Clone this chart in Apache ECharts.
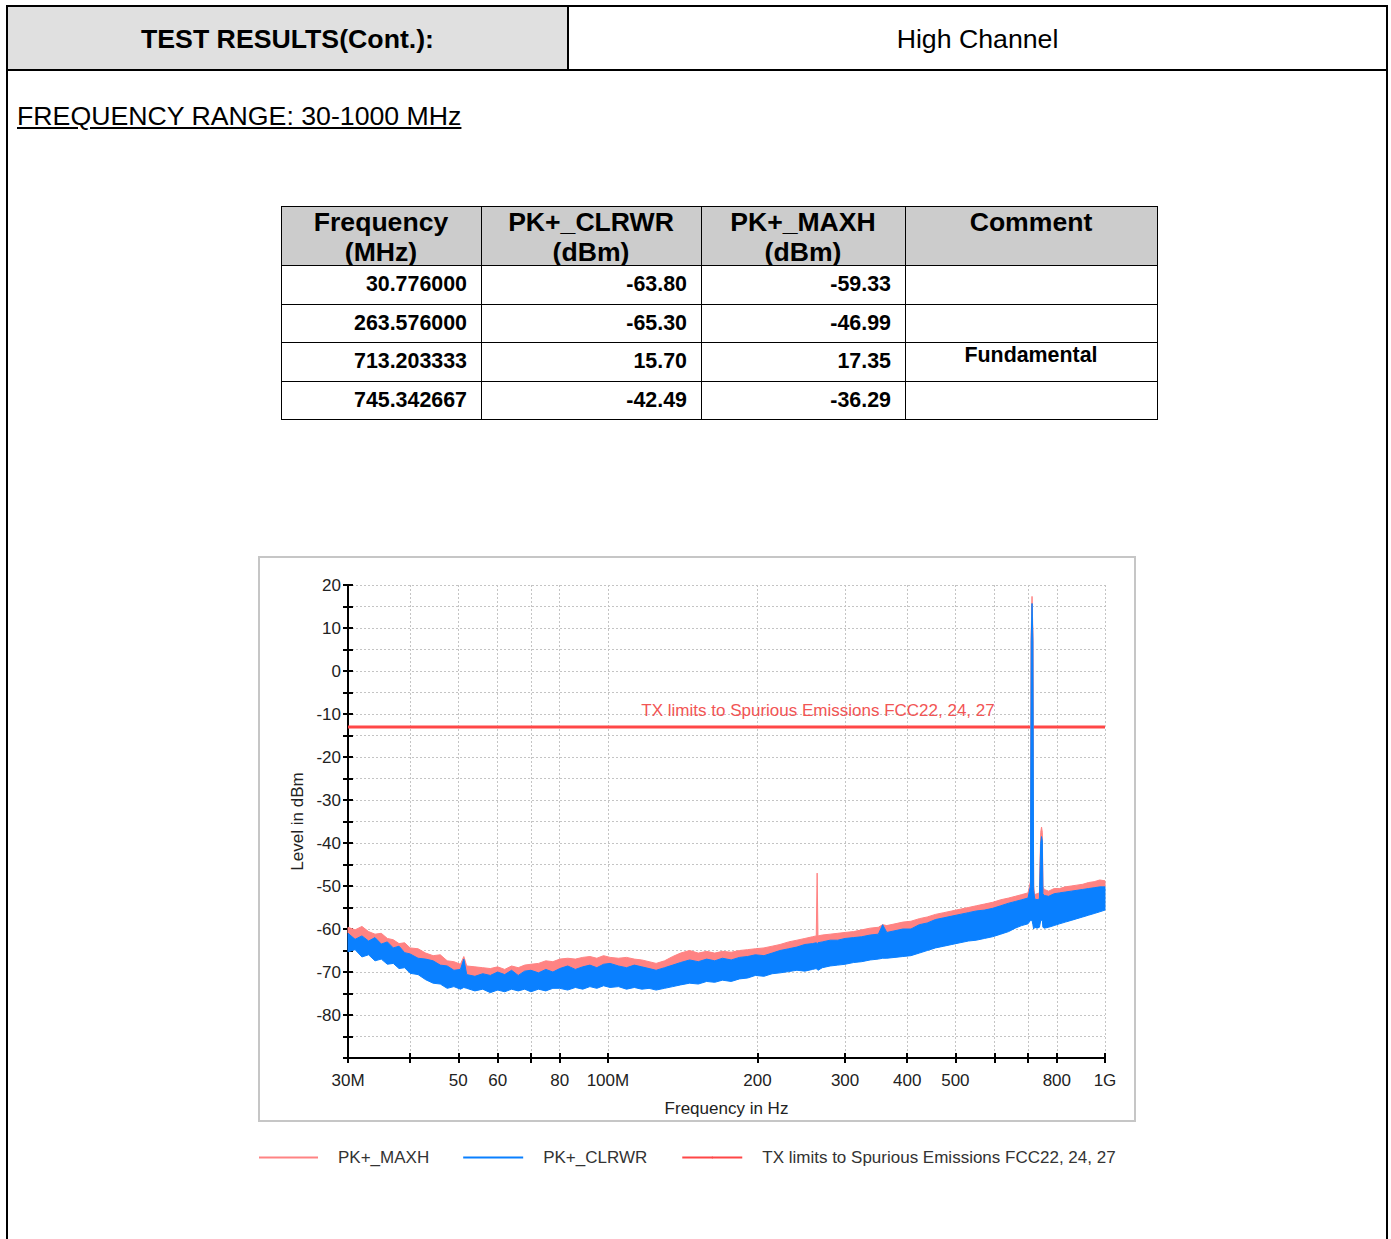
<!DOCTYPE html>
<html>
<head>
<meta charset="utf-8">
<script src="https://cdn.jsdelivr.net/npm/echarts@6/dist/echarts.min.js"></script>
<style>
html,body{margin:0;padding:0;background:#fff;}
body{width:1391px;height:1239px;position:relative;overflow:hidden;font-family:"Liberation Sans",Arial,sans-serif;color:#000;}
.abs{position:absolute;}
.hcell{position:absolute;font-weight:bold;font-size:26.6px;line-height:30px;text-align:center;white-space:nowrap;}
.dcell{position:absolute;font-weight:bold;font-size:21.4px;text-align:right;box-sizing:border-box;padding-right:14px;background:#fff;}
.ccell{position:absolute;font-weight:bold;font-size:21.4px;text-align:center;line-height:24px;padding-top:1px;background:#fff;box-sizing:border-box;}
</style>
</head>
<body>
<div class="abs" style="left:6px;top:5px;width:1382px;height:1300px;border:2px solid #000;box-sizing:border-box;"></div>
<div class="abs" style="left:8px;top:7px;width:559px;height:62px;background:#e0e0e0;"></div>
<div class="abs" style="left:567px;top:7px;width:2px;height:62px;background:#000;"></div>
<div class="abs" style="left:8px;top:69px;width:1378px;height:2px;background:#000;"></div>
<div class="abs" style="left:8px;top:8px;width:559px;height:62px;line-height:62px;text-align:center;font-weight:bold;font-size:26.7px;">TEST RESULTS(Cont.):</div>
<div class="abs" style="left:569px;top:8px;width:817px;height:62px;line-height:62px;text-align:center;font-size:26.7px;">High Channel</div>
<div class="abs" style="left:17px;top:101px;font-size:26.7px;line-height:30px;text-decoration:underline;white-space:nowrap;">FREQUENCY RANGE: 30-1000 MHz</div>
<div id="tbl"></div>
<div class="abs" style="left:258px;top:556px;width:878px;height:566px;border:2px solid #c6c6c6;box-sizing:border-box;"></div>
<div id="chart" class="abs" style="left:259px;top:557px;width:880px;height:630px;"></div>
<script>
// ---------------- table data ----------------
const tableHeaders = ['Frequency<br>(MHz)', 'PK+_CLRWR<br>(dBm)', 'PK+_MAXH<br>(dBm)', 'Comment'];
const tableFreq = ['30.776000', '263.576000', '713.203333', '745.342667'];
const tableClrwr = ['-63.80', '-65.30', '15.70', '-42.49'];
const tableMaxh = ['-59.33', '-46.99', '17.35', '-36.29'];
const tableComment = ['', '', 'Fundamental', ''];

// ---------------- chart data ----------------
const freqMHz = [30,31,32,33,34,35,36,37,38,39,40,41.5,43,44.5,46,47.5,49,50.5,51.3,52,54,56,58,60,62,64,66,68,70,72.5,75,77.5,80,83,86,89,92,95,98,101,105,109,113,117,121,125,130,135,140,146,152,158,164,170,177,184,191,198,206,214,222,231,240,249,258,262.5,263.576,264.6,270,280,290,300,312,324,337,350,357,364,378,392,407,423,439,456,474,492,511,531,551,572,594,617,640,660,680,700,708,710.5,713.2,716,718.5,722,730,738,742.5,745.3,748,750,755,770,790,810,832,855,878,902,926,951,976,1000];
const maxhTop = [-59.6,-60.2,-59.4,-60.6,-61.2,-61.0,-62.2,-62.5,-63.4,-63.2,-64.4,-64.6,-65.6,-66.2,-66.0,-67.4,-67.6,-68.2,-66.4,-68.6,-68.8,-69.0,-69.2,-68.8,-69.4,-68.6,-69.0,-68.4,-68.2,-68.0,-67.4,-67.6,-67.0,-66.8,-67.0,-66.6,-66.4,-66.8,-66.2,-66.6,-66.8,-66.6,-67.0,-67.2,-67.6,-68.0,-67.4,-66.4,-65.6,-65.0,-65.6,-65.2,-65.6,-65.2,-65.4,-65.0,-64.8,-64.6,-64.4,-64.0,-63.6,-63.0,-62.6,-62.2,-61.8,-61.6,-47.0,-61.6,-61.4,-61.2,-61.0,-60.8,-60.6,-60.2,-59.8,-59.6,-59.0,-59.2,-58.8,-58.4,-58.2,-57.6,-57.2,-56.6,-56.2,-55.8,-55.4,-55.0,-54.6,-54.2,-53.8,-53.2,-52.8,-52.4,-52.0,-51.6,-49.0,9.0,17.35,9.0,-50.0,-52.0,-51.8,-51.6,-37.5,-36.29,-37.5,-50.2,-50.8,-51.2,-50.6,-50.6,-50.2,-50.0,-49.8,-49.6,-49.2,-49.0,-48.6,-48.8];
const clrwrTop = [-61.0,-62.4,-61.6,-62.8,-62.0,-63.5,-63.0,-64.4,-64.0,-65.5,-65.8,-66.8,-67.0,-67.4,-68.4,-68.6,-69.6,-69.4,-67.0,-70.6,-71.0,-70.4,-70.8,-70.0,-70.6,-69.6,-70.8,-69.8,-69.6,-70.2,-69.4,-70.0,-69.2,-68.6,-69.4,-68.8,-68.4,-69.0,-68.2,-68.0,-68.6,-69.0,-68.4,-68.8,-69.2,-69.6,-69.0,-68.4,-67.8,-67.2,-67.6,-67.0,-67.4,-66.8,-67.2,-66.6,-66.4,-66.0,-66.2,-65.6,-65.0,-64.6,-64.2,-63.6,-63.4,-63.2,-63.4,-63.2,-63.0,-62.6,-62.6,-62.2,-62.0,-61.8,-61.4,-61.2,-59.0,-60.8,-60.4,-60.0,-60.0,-59.0,-58.6,-57.8,-57.4,-57.0,-56.6,-56.2,-55.8,-55.6,-55.2,-54.6,-54.0,-53.6,-53.2,-52.8,-50.0,7.0,15.7,7.0,-51.0,-53.0,-53.2,-53.0,-40.0,-38.5,-39.5,-51.8,-52.2,-52.4,-51.8,-51.6,-51.4,-51.2,-51.0,-50.8,-50.6,-50.4,-50.2,-50.2];
const clrwrBottom = [-65.3,-64.8,-66.5,-66.0,-67.4,-67.0,-68.2,-68.0,-69.2,-69.0,-70.3,-70.6,-71.8,-72.6,-72.8,-73.8,-73.4,-74.0,-73.6,-73.8,-74.4,-74.0,-74.8,-74.2,-74.6,-74.0,-74.4,-74.0,-74.6,-74.0,-74.4,-73.8,-73.8,-74.2,-73.6,-74.0,-73.4,-73.8,-73.2,-73.6,-73.4,-74.0,-73.6,-74.0,-73.8,-74.2,-73.8,-73.4,-73.0,-72.6,-72.8,-72.2,-72.4,-71.9,-72.2,-71.6,-71.4,-70.8,-71.0,-70.4,-70.2,-69.9,-69.6,-69.8,-69.4,-69.2,-69.4,-69.6,-69.0,-68.6,-68.4,-68.2,-67.8,-67.6,-67.2,-67.0,-66.8,-66.8,-66.6,-66.4,-66.2,-65.6,-65.0,-64.4,-64.0,-63.6,-63.2,-62.8,-62.6,-62.2,-61.8,-61.2,-60.6,-59.8,-59.2,-58.8,-58.0,-58.0,-58.0,-59.0,-60.0,-59.6,-59.8,-59.6,-58.0,-58.0,-58.0,-59.6,-59.8,-59.6,-59.2,-58.8,-58.4,-58.0,-57.6,-57.2,-56.8,-56.4,-56.0,-55.6];

const limitName = 'TX limits to Spurious Emissions FCC22, 24, 27';
const limitLevel = -13;
const limitLabelFreq = 600;

const xTickFreqs = [30,40,50,60,70,80,100,200,300,400,500,600,700,800,1000];
const xLabelFreqs = [30,50,60,80,100,200,300,400,500,800,1000];
const xLabelTexts = ['30M','50','60','80','100M','200','300','400','500','800','1G'];
const yLabelTexts = ['20','10','0','-10','-20','-30','-40','-50','-60','-70','-80'];

// ---------------- table build ----------------
(function(){
  const colX=[281,481,701,905,1157];
  const rowY=[206,265,304,342,381,419];
  let h='';
  h += `<div class="abs" style="left:${colX[0]}px;top:${rowY[0]}px;width:${colX[4]-colX[0]}px;height:${rowY[1]-rowY[0]}px;background:#cccccc;"></div>`;
  for (let c=0;c<4;c++){
    h += `<div class="hcell" style="left:${colX[c]}px;top:${rowY[0]+1}px;width:${colX[c+1]-colX[c]}px;">${tableHeaders[c]}</div>`;
  }
  const cols=[tableFreq, tableClrwr, tableMaxh];
  for (let r=0;r<4;r++){
    const t=rowY[r+1], hh=rowY[r+2]-rowY[r+1];
    for (let c=0;c<3;c++){
      h += `<div class="dcell" style="left:${colX[c]}px;top:${t}px;width:${colX[c+1]-colX[c]}px;height:${hh}px;line-height:${hh}px;">${cols[c][r]}</div>`;
    }
    h += `<div class="ccell" style="left:${colX[3]}px;top:${t}px;width:${colX[4]-colX[3]}px;height:${hh}px;">${tableComment[r]}</div>`;
  }
  for (const y of rowY) h += `<div class="abs" style="left:${colX[0]}px;top:${y}px;width:${colX[4]-colX[0]+1}px;height:1px;background:#000;"></div>`;
  for (const x of colX) h += `<div class="abs" style="left:${x}px;top:${rowY[0]}px;width:1px;height:${rowY[5]-rowY[0]+1}px;background:#000;"></div>`;
  document.getElementById('tbl').innerHTML = h;
})();

// ---------------- chart ----------------
const chart = echarts.init(document.getElementById('chart'), null, {renderer:'svg'});
const FONT = 'Liberation Sans';
const xMin = Math.log10(30), xMax = Math.log10(1000);

function bandSeries(name, color, topArr, botArr, z){
  return {
    type:'custom', name, coordinateSystem:'cartesian2d', silent:true, animation:false, z,
    itemStyle:{color},
    data: freqMHz.map((f,i)=>[Math.log10(f), topArr[i], botArr[i]]),
    encode:{x:0, y:[1,2]},
    renderItem(params, api){
      if (params.dataIndex !== 0) return;
      const pts=[];
      for (let i=0;i<freqMHz.length;i++) pts.push(api.coord([Math.log10(freqMHz[i]), topArr[i]]));
      for (let i=freqMHz.length-1;i>=0;i--) pts.push(api.coord([Math.log10(freqMHz[i]), botArr[i]]));
      return {type:'polygon', shape:{points:pts}, style:{fill:color, stroke:color, lineWidth:1}};
    }
  };
}

function xLabel(v){
  const f = Math.pow(10, v);
  let best=0, bd=1e9;
  xLabelFreqs.forEach((q,i)=>{const d=Math.abs(q-f); if(d<bd){bd=d;best=i;}});
  return bd < 0.5 ? xLabelTexts[best] : '';
}

const option = {
  animation:false,
  backgroundColor:'transparent',
  grid:{left:89, top:28, width:757, height:473, containLabel:false},
  legend:{
    left:-1, top:592, padding:0, itemWidth:60, itemHeight:2, itemGap:34, selectedMode:false,
    textStyle:{fontFamily:FONT, fontSize:17, color:'#333', padding:[0,0,0,15]},
    data:[{name:'PK+_MAXH', icon:'rect'},{name:'PK+_CLRWR', icon:'rect'},{name:limitName}]
  },
  xAxis:[{
    type:'value', min:xMin, max:xMax, position:'bottom',
    axisLine:{show:true, onZero:false, lineStyle:{color:'#000', width:2}},
    axisTick:{show:true, length:5, customValues: xTickFreqs.map(f=>Math.log10(f)), lineStyle:{color:'#000', width:2}},
    axisLabel:{show:true, customValues: xLabelFreqs.map(f=>Math.log10(f)), formatter:xLabel, color:'#222', fontFamily:FONT, fontSize:17, margin:14, hideOverlap:false},
    splitLine:{show:true, lineStyle:{color:'#c4c4c4', type:[2,2], width:1}},
    name:'Frequency in Hz', nameLocation:'middle', nameGap:42,
    nameTextStyle:{color:'#222', fontFamily:FONT, fontSize:17}
  },{
    type:'value', min:xMin, max:xMax, position:'bottom', offset:0,
    axisLine:{show:false, onZero:false}, axisLabel:{show:false}, splitLine:{show:false},
    axisTick:{show:true, inside:true, length:5, customValues: xTickFreqs.map(f=>Math.log10(f)), lineStyle:{color:'#000', width:2}}
  }],
  yAxis:[{
    type:'value', min:-90, max:20, interval:5, position:'left',
    axisLine:{show:true, onZero:false, lineStyle:{color:'#000', width:2}},
    axisTick:{show:true, length:5, lineStyle:{color:'#000', width:2}},
    axisLabel:{formatter:v=> yLabelTexts.includes(String(v)) ? String(v) : '', color:'#222', fontFamily:FONT, fontSize:17, margin:7},
    splitLine:{show:true, lineStyle:{color:'#c4c4c4', type:[2,2], width:1}},
    name:'Level in dBm', nameLocation:'middle', nameGap:40,
    nameTextStyle:{color:'#222', fontFamily:FONT, fontSize:17}
  },{
    type:'value', min:-90, max:20, interval:5, position:'left', offset:0,
    axisLine:{show:false, onZero:false}, axisLabel:{show:false}, splitLine:{show:false},
    axisTick:{show:true, inside:true, length:5, lineStyle:{color:'#000', width:2}}
  }],
  series:[
    {
      type:'line', name:limitName, z:2, symbol:'none', animation:false, silent:true,
      data:[[xMin, limitLevel],[xMax, limitLevel]],
      lineStyle:{color:'#ff4747', width:3}, itemStyle:{color:'#ff4747'},
      markPoint:{
        symbol:'circle', symbolSize:0, silent:true, animation:false,
        data:[{coord:[Math.log10(limitLabelFreq), limitLevel]}],
        label:{show:true, position:'left', distance:0, offset:[0,-16], formatter:limitName, color:'#f25555', fontFamily:FONT, fontSize:17}
      }
    },
    bandSeries('PK+_MAXH', '#ff8383', maxhTop, clrwrTop, 3),
    bandSeries('PK+_CLRWR', '#0a80ff', clrwrTop, clrwrBottom, 4)
  ]
};
chart.setOption(option);
</script>
</body>
</html>
